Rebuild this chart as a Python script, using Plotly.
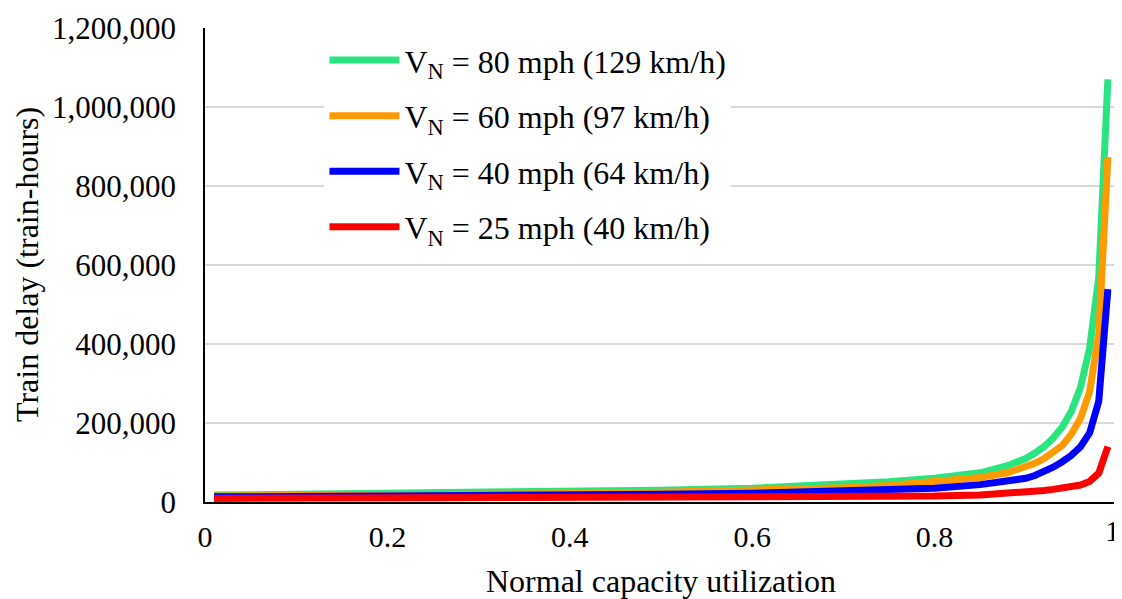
import plotly.graph_objects as go

utilization = [0.01, 0.1, 0.2, 0.3, 0.4, 0.5, 0.6, 0.7, 0.75, 0.8, 0.85, 0.88, 0.9,
               0.91, 0.92, 0.93, 0.94, 0.95, 0.96, 0.97, 0.98, 0.99]

delay_80 = [17500, 19500, 21500, 23500, 26000, 30000, 35000, 44000, 51000, 60000, 74000,
            92000, 110000, 124000, 140000, 162000, 190000, 230000, 290000, 390000, 570000, 1070000]
delay_60 = [15000, 16000, 17500, 19000, 21500, 25000, 29000, 36000, 42000, 51000, 62000,
            74000, 88000, 98000, 110000, 125000, 143000, 172000, 212000, 280000, 425000, 873000]
delay_40 = [13000, 13500, 14500, 15500, 17000, 19500, 22000, 26500, 30000, 35000, 44000,
            52000, 60000, 67000, 76000, 88000, 102000, 118000, 140000, 175000, 255000, 539000]
delay_25 = [9000, 9300, 9700, 10200, 10800, 11800, 12500, 13500, 14000, 15000, 18000,
            21000, 24000, 26000, 29000, 32000, 35000, 38000, 43000, 52000, 73000, 140000]

series_names = ["V<sub>N</sub> = 80 mph (129 km/h)", "V<sub>N</sub> = 60 mph (97 km/h)",
                "V<sub>N</sub> = 40 mph (64 km/h)", "V<sub>N</sub> = 25 mph (40 km/h)"]
series_values = [delay_80, delay_60, delay_40, delay_25]
series_colors = ["#2AE57F", "#FF9900", "#0000FF", "#FF0000"]

y_ticks = [0, 200000, 400000, 600000, 800000, 1000000, 1200000]
x_ticks = [0, 0.2, 0.4, 0.6, 0.8, 1]
x_tick_labels = ["0", "0.2", "0.4", "0.6", "0.8", "1"]

FONT = "Liberation Serif"

fig = go.Figure()
for i, (name, vals, col) in enumerate(zip(series_names, series_values, series_colors)):
    fig.add_trace(go.Scatter(
        x=utilization, y=vals, mode="lines", name=name,
        line=dict(color=col, width=7), legendgroup=f"g{i}",
    ))

# The last x tick label sits at the very right edge: draw it as right-anchored text
axis_texts = [x_tick_labels[i] if i < len(x_ticks) - 1 else "" for i in range(len(x_ticks))]

# The page body has an 8px default margin, so the figure is 8px smaller
fig.update_layout(
    width=1114, height=591,
    margin=dict(l=197, r=5, t=20, b=97, autoexpand=False),
    paper_bgcolor="white", plot_bgcolor="white",
    font=dict(family=FONT, size=30, color="black"),
    showlegend=True,
    legend=dict(
        x=0.131, y=0.99, xanchor="left", yanchor="top",
        bgcolor="white", borderwidth=0,
        font=dict(family=FONT, size=32, color="black"),
        tracegroupgap=11, itemwidth=70,
    ),
    xaxis=dict(
        range=[0, 1], tickvals=x_ticks, ticktext=axis_texts,
        showgrid=False, zeroline=False,
        showline=True, linecolor="black", linewidth=1.5, automargin=False,
        ticks="", ticklabelstandoff=7,
        tickfont=dict(family=FONT, size=30, color="black"),
    ),
    yaxis=dict(
        range=[0, 1200000], tickvals=y_ticks, tickformat=",d",
        showgrid=True, gridcolor="#D9D9D9", gridwidth=1.5, zeroline=False,
        showline=True, linecolor="black", linewidth=1.5, automargin=False,
        ticks="", ticklabelstandoff=21,
        tickfont=dict(family=FONT, size=31, color="black"),
    ),
    annotations=[
        dict(text=x_tick_labels[-1], xref="x", yref="paper", x=x_ticks[-1], y=0,
             xanchor="right", yanchor="top", xshift=4, yshift=-11, showarrow=False,
             borderpad=0, font=dict(family=FONT, size=30, color="black")),
        dict(text="Normal capacity utilization", xref="paper", yref="paper",
             x=(661 - 205) / 912, y=-(581 - 502) / 474, xanchor="center", yanchor="middle",
             showarrow=False, font=dict(family=FONT, size=32, color="black")),
        dict(text="Train delay (train-hours)", xref="paper", yref="paper",
             x=-(205 - 27) / 912, y=(502 - 265) / 474, xanchor="center", yanchor="middle",
             textangle=-90, showarrow=False, font=dict(family=FONT, size=32, color="black")),
    ],
)

fig.write_html("out.html")
